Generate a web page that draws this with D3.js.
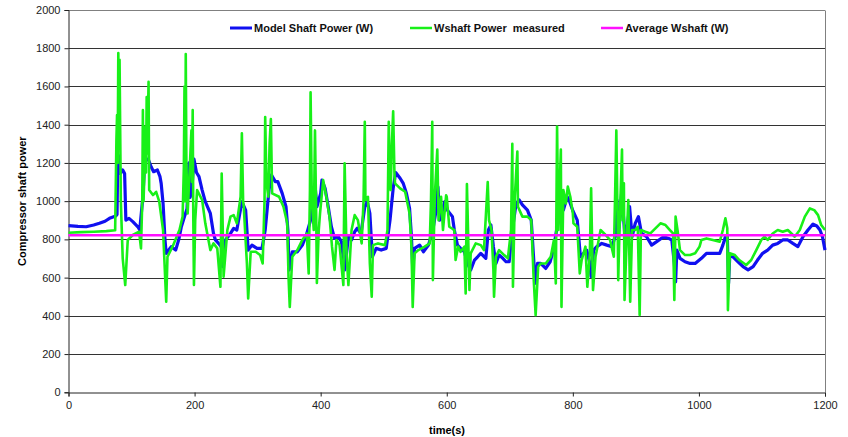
<!DOCTYPE html>
<html>
<head>
<meta charset="utf-8">
<script src="https://cdn.jsdelivr.net/npm/d3@7"></script>
<style>
  body { margin: 0; background: #fff; }
  text { font-family: "Liberation Sans", Arial, sans-serif; }
</style>
</head>
<body>
<div id="d3"></div>
<script>
// time (s) and model shaft power (W)
const modelTime = [0, 15, 28, 40, 49, 58, 65, 75, 77, 78, 79, 82, 86, 89, 91, 96, 102, 110, 113, 118, 120, 122, 127, 131, 135, 141, 145, 147, 150, 153, 155, 163, 170, 175, 179, 184, 188, 191, 193, 196, 199, 203, 207, 212, 217, 225, 230, 233, 238, 244, 245, 249, 257, 262, 267, 275, 281, 285, 291, 299, 307, 312, 318, 322, 328, 332, 339, 345, 348, 350, 355, 363, 371, 378, 384, 389, 391, 394, 400, 402, 407, 412, 417, 422, 428, 433, 438, 444, 449, 454, 458, 464, 470, 474, 478, 482, 488, 496, 504, 510, 515, 519, 526, 531, 536, 541, 544, 546, 549, 557, 563, 571, 578, 584, 586, 589, 597, 601, 609, 612, 617, 622, 628, 633, 638, 644, 649, 654, 662, 666, 670, 674, 678, 683, 689, 694, 699, 704, 710, 715, 720, 728, 734, 738, 740, 744, 749, 757, 764, 769, 776, 781, 785, 791, 794, 800, 807, 812, 817, 822, 827, 829, 833, 838, 846, 854, 862, 867, 870, 872, 875, 878, 880, 883, 887, 890, 894, 899, 904, 909, 917, 925, 933, 944, 952, 957, 961, 963, 965, 970, 978, 986, 994, 1004, 1012, 1022, 1033, 1038, 1042, 1045, 1047, 1049, 1054, 1062, 1070, 1078, 1086, 1093, 1101, 1109, 1117, 1125, 1133, 1141, 1149, 1157, 1165, 1173, 1181, 1187, 1192, 1196, 1200];
const modelPower = [872, 868, 866, 875, 884, 895, 910, 922, 930, 1198, 1240, 1145, 1163, 1145, 901, 910, 893, 866, 849, 1023, 1150, 1225, 1215, 1180, 1154, 1163, 1130, 1093, 988, 800, 727, 762, 744, 800, 866, 919, 960, 1200, 1020, 1076, 1220, 1150, 1128, 1058, 997, 936, 831, 797, 779, 753, 657, 797, 831, 858, 849, 997, 953, 744, 770, 753, 753, 849, 1058, 1137, 1102, 1102, 1041, 971, 849, 640, 735, 735, 770, 831, 901, 1032, 1085, 971, 1041, 1110, 1067, 971, 866, 805, 814, 788, 640, 814, 797, 840, 858, 831, 971, 997, 936, 709, 753, 744, 753, 901, 1067, 1150, 1120, 1093, 1041, 962, 814, 648, 753, 770, 735, 770, 849, 971, 1075, 901, 997, 953, 919, 849, 770, 753, 735, 674, 640, 692, 709, 727, 701, 849, 875, 762, 674, 718, 701, 683, 683, 849, 988, 1006, 980, 953, 901, 692, 570, 674, 674, 648, 683, 744, 884, 1041, 953, 1023, 1006, 950, 901, 709, 727, 744, 674, 605, 744, 762, 779, 770, 762, 814, 1006, 814, 919, 1076, 936, 797, 884, 971, 814, 884, 919, 831, 814, 770, 788, 814, 805, 797, 674, 578, 744, 701, 683, 674, 674, 701, 727, 727, 727, 770, 814, 823, 570, 718, 709, 683, 657, 640, 657, 692, 727, 744, 770, 779, 797, 797, 779, 762, 814, 849, 880, 870, 849, 814, 744];

// time (s) and measured shaft power (W)
const measuredTime = [0, 20, 40, 60, 74, 76, 77, 78, 79, 80, 81, 83, 86, 90, 94, 102, 112, 115, 117, 118, 119, 121, 122, 123, 124, 125, 127, 128, 134, 139, 144, 150, 155, 157, 165, 176, 181, 183, 184, 185, 186, 187, 189, 192, 195, 196, 197, 198, 199, 201, 204, 212, 217, 222, 225, 230, 236, 241, 243, 245, 246, 252, 257, 262, 267, 273, 275, 277, 278, 283, 285, 289, 297, 304, 308, 311, 312, 314, 317, 319, 321, 323, 334, 341, 347, 349, 351, 355, 363, 371, 378, 381, 383, 384, 386, 389, 391, 393, 394, 397, 399, 404, 409, 414, 418, 422, 425, 430, 436, 438, 440, 441, 444, 449, 454, 459, 465, 468, 470, 471, 475, 478, 481, 483, 491, 502, 506, 508, 510, 511, 513, 515, 517, 518, 526, 534, 541, 544, 546, 549, 555, 565, 573, 575, 577, 578, 581, 585, 587, 591, 594, 599, 600, 604, 612, 614, 618, 622, 628, 630, 632, 636, 638, 646, 654, 659, 665, 667, 671, 674, 675, 678, 683, 691, 697, 702, 704, 705, 708, 712, 713, 720, 728, 734, 738, 741, 745, 749, 757, 765, 770, 773, 775, 777, 781, 782, 785, 789, 792, 796, 800, 801, 807, 811, 814, 820, 823, 827, 829, 832, 836, 844, 852, 859, 865, 867, 869, 871, 872, 874, 878, 879, 881, 882, 886, 888, 891, 894, 899, 903, 906, 908, 915, 923, 931, 939, 947, 954, 959, 961, 963, 966, 970, 978, 986, 994, 1001, 1004, 1012, 1022, 1033, 1038, 1042, 1045, 1046, 1049, 1057, 1064, 1075, 1083, 1091, 1099, 1104, 1109, 1117, 1125, 1133, 1141, 1152, 1160, 1168, 1176, 1183, 1189, 1194, 1200];
const measuredPower = [835, 838, 840, 843, 848, 1320, 1450, 1200, 1775, 1300, 1740, 1000, 700, 561, 797, 823, 840, 753, 1000, 1476, 1000, 1200, 1390, 1150, 1545, 1250, 1625, 1058, 1032, 1049, 997, 849, 474, 709, 762, 849, 919, 1180, 1600, 1000, 1770, 1200, 936, 1150, 1370, 1100, 1476, 900, 561, 900, 1058, 1006, 884, 797, 744, 779, 753, 552, 1145, 800, 605, 849, 919, 927, 884, 1023, 1355, 1000, 971, 674, 491, 735, 735, 718, 674, 1006, 1440, 1100, 1023, 1300, 1430, 1041, 1023, 971, 884, 605, 447, 709, 744, 797, 831, 622, 1058, 1570, 1000, 849, 1370, 900, 572, 850, 936, 1110, 1023, 919, 762, 640, 797, 770, 561, 1198, 900, 727, 561, 849, 927, 901, 779, 1000, 1415, 1006, 1023, 674, 500, 770, 779, 770, 849, 1415, 1100, 1058, 1300, 1470, 1150, 1093, 1067, 1049, 936, 762, 447, 727, 744, 762, 779, 1000, 1415, 587, 1023, 1270, 900, 1023, 849, 1030, 1023, 866, 849, 692, 762, 735, 762, 517, 1090, 535, 727, 779, 770, 744, 1100, 901, 849, 640, 500, 709, 744, 718, 701, 849, 1300, 552, 1023, 1260, 971, 919, 919, 901, 587, 404, 657, 674, 674, 709, 797, 570, 1390, 849, 1270, 447, 1058, 988, 1076, 1023, 936, 884, 866, 622, 692, 762, 552, 727, 1067, 535, 709, 849, 823, 797, 709, 1023, 1370, 900, 587, 849, 1270, 900, 1093, 483, 849, 1006, 474, 849, 849, 866, 404, 849, 840, 831, 858, 884, 875, 849, 831, 483, 919, 849, 744, 718, 718, 727, 762, 797, 805, 797, 788, 849, 910, 858, 430, 727, 718, 692, 666, 692, 744, 797, 814, 797, 831, 849, 840, 849, 814, 849, 919, 962, 953, 927, 875, 849];

const averagePower = 822;
const timeRange = [0, 1200];

const xTicks = [0, 200, 400, 600, 800, 1000, 1200];
const yTicks = [0, 200, 400, 600, 800, 1000, 1200, 1400, 1600, 1800, 2000];

const seriesNames = ["Model Shaft Power (W)", "Wshaft Power  measured", "Average Wshaft (W)"];
const seriesColors = ["#1010f0", "#18f018", "#ff10ff"];

const width = 848;
const height = 437;
const margin = { top: 10, right: 23, bottom: 45, left: 68.5 };

const svg = d3
  .select("#d3")
  .append("svg")
  .attr("width", width)
  .attr("height", height);

const x = d3.scaleLinear().domain([0, 1200]).range([margin.left, width - margin.right]);
const y = d3.scaleLinear().domain([0, 2000]).range([height - margin.bottom + 0.3, margin.top]);
const crisp = (v) => Math.round(v) + 0.5;

// horizontal grid
svg
  .append("g")
  .selectAll("line")
  .data(yTicks.slice(1))
  .join("line")
  .attr("x1", x(0))
  .attr("x2", x(1200))
  .attr("y1", (d) => crisp(y(d)))
  .attr("y2", (d) => crisp(y(d)))
  .attr("stroke", (d) => (d === 2000 ? "#808080" : "#333"))
  .attr("stroke-width", 1);

// right frame
svg
  .append("line")
  .attr("x1", crisp(x(1200)))
  .attr("x2", crisp(x(1200)))
  .attr("y1", crisp(y(2000)))
  .attr("y2", y(0))
  .attr("stroke", "#808080");

// axes
const xAxis = svg
  .append("g")
  .attr("transform", `translate(0, ${crisp(y(0))})`)
  .call(d3.axisBottom(x).tickValues(xTicks).tickSize(4).tickPadding(5).tickFormat(d3.format("d")));

const yAxis = svg
  .append("g")
  .attr("transform", `translate(${x(0)}, 0)`)
  .call(d3.axisLeft(y).tickValues(yTicks).tickSize(4).tickPadding(4).tickFormat(d3.format("d")));

for (const axis of [xAxis, yAxis]) {
  axis.select(".domain").attr("stroke", "#222");
  axis.selectAll(".tick line").attr("stroke", "#222");
  axis.selectAll("text").style("font-size", "11px").attr("fill", "#222");
}

// axis titles
svg
  .append("text")
  .attr("x", 447)
  .attr("y", 434)
  .attr("text-anchor", "middle")
  .style("font-size", "11px")
  .style("font-weight", "bold")
  .text("time(s)");

svg
  .append("text")
  .attr("transform", `translate(26, ${(y(0) + y(2000)) / 2}) rotate(-90)`)
  .attr("text-anchor", "middle")
  .style("font-size", "11px")
  .style("font-weight", "bold")
  .text("Compressor shaft power");

// series
const line = d3
  .line()
  .x((d) => x(d[0]))
  .y((d) => y(d[1]));

const modelData = modelTime.map((t, i) => [t, modelPower[i]]);
const measuredData = measuredTime.map((t, i) => [t, measuredPower[i]]);
const averageData = timeRange.map((t) => [t, averagePower]);

svg
  .append("path")
  .datum(modelData)
  .attr("d", line)
  .attr("fill", "none")
  .attr("stroke", seriesColors[0])
  .attr("stroke-width", 3.2)
  .attr("stroke-linejoin", "round");

svg
  .append("path")
  .datum(measuredData)
  .attr("d", line)
  .attr("fill", "none")
  .attr("stroke", seriesColors[1])
  .attr("stroke-width", 2.6)
  .attr("stroke-linejoin", "round");

svg
  .append("path")
  .datum(averageData)
  .attr("d", line)
  .attr("fill", "none")
  .attr("stroke", seriesColors[2])
  .attr("stroke-width", 2.5);

// legend
const legendX = [230, 410, 601];
const legend = svg
  .append("g")
  .selectAll("g")
  .data(seriesNames)
  .join("g")
  .attr("transform", (d, i) => `translate(${legendX[i]}, 28)`);

legend
  .append("line")
  .attr("x1", 0)
  .attr("x2", 22)
  .attr("stroke", (d, i) => seriesColors[i])
  .attr("stroke-width", (d, i) => (i === 0 ? 3 : 2.5));

legend
  .append("text")
  .attr("x", 24)
  .attr("dy", "0.35em")
  .style("font-size", "11px")
  .style("font-weight", "bold")
  .style("white-space", "pre")
  .attr("fill", "#111")
  .text((d) => d);
</script>
</body>
</html>
